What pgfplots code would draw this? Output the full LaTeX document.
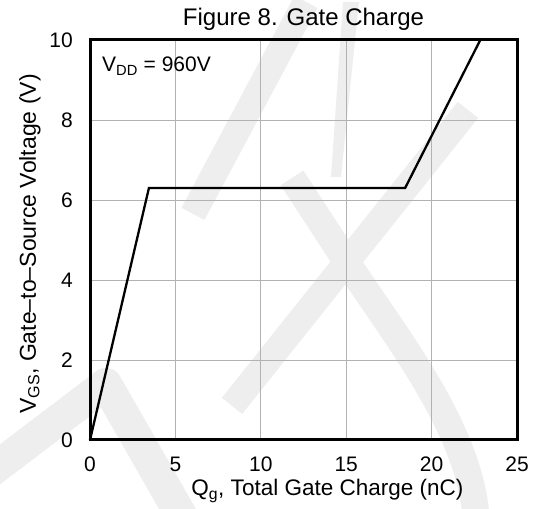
\documentclass[border=0pt]{standalone}
\usepackage{fontspec}
\setmainfont{Liberation Sans}
\usepackage{pgfplots}
\pgfplotsset{compat=1.18}
\definecolor{wm}{RGB}{238,238,238}
\definecolor{gridc}{RGB}{178,178,178}
\begin{document}
\begin{tikzpicture}[x=1bp,y=1bp]
\useasboundingbox (0,0) rectangle (533,509);
% faint watermark in the background (image px, y flipped)
\begin{scope}[wm, line cap=butt, line join=round, yscale=-1, yshift=-509]
\draw[line width=26bp] (193,212) -- (306,0);
\fill (343,0) -- (359,0) -- (341,175) -- (331,175) -- cycle;
\draw[line width=26bp] (468,108) -- (232,404);
\draw[line width=27bp] (292,176) -- (352,268) .. controls (400,340) and (470,430) .. (476,515);
\draw[line width=32bp] (-10,470) -- (106,382) -- (182,515);
\end{scope}
\begin{axis}[
  at={(90bp,69bp)}, anchor=south west,
  scale only axis, width=427bp, height=400bp,
  xmin=0, xmax=25, ymin=0, ymax=10,
  xtick={0,5,...,25}, ytick={0,2,...,10},
  grid=major,
  major grid style={gridc, line width=0.9bp},
  axis line style={black, line width=3bp},
  tick style={draw=none},
  /pgf/number format/assume math mode=true,
  ticklabel style={font=\fontsize{21bp}{25bp}\selectfont, inner sep=0pt},
  xticklabel style={anchor=base, yshift=-32bp},
  yticklabel style={anchor=east, xshift=-17bp},
  xlabel={Q\textsubscript{g}, Total Gate Charge (nC)},
  xlabel style={at={(axis description cs:0.556,-0.14)}, anchor=base, inner sep=0pt, font=\fontsize{22.5bp}{27bp}\selectfont},
  ylabel={V\textsubscript{GS}, Gate–to–Source Voltage (V)},
  ylabel style={at={(axis description cs:-0.127,0.49)}, anchor=base, inner sep=0pt, font=\fontsize{23bp}{27bp}\selectfont},
  every axis title shift=0pt,
  title={Figure 8. Gate Charge},
  title style={at={(axis description cs:0.5,1.035)}, anchor=base, inner sep=0pt, font=\fontsize{24bp}{28bp}\selectfont},
  clip=false,
]
\addplot[black, line width=2.3bp, line join=miter] coordinates {
  (0,0) (3.45,6.3) (18.45,6.3) (22.85,10)
};
\node[anchor=base west, inner sep=0pt, font=\fontsize{21bp}{25bp}\selectfont]
  at (axis description cs:0.028,0.92) {V\textsubscript{DD} = 960V};
\end{axis}
\end{tikzpicture}
\end{document}
